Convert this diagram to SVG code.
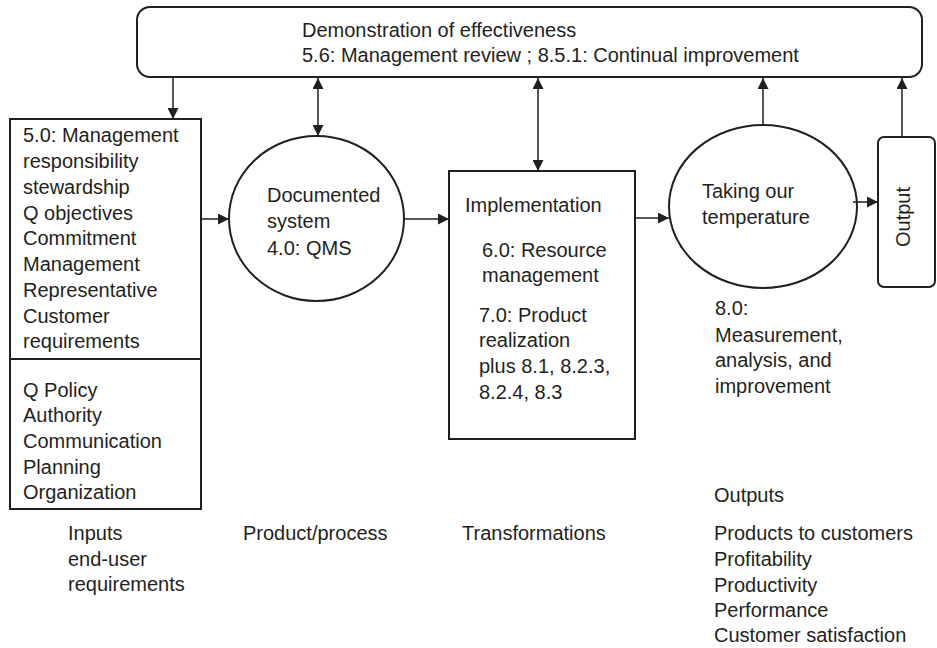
<svg xmlns="http://www.w3.org/2000/svg" width="937" height="648" viewBox="0 0 937 648">
  <style>
    .shape { fill: #ffffff; stroke: #231f20; stroke-width: 2; }
    .link { fill: none; stroke: #231f20; stroke-width: 1.5; }
    text { font-family: "Liberation Sans", Arial, sans-serif; font-size: 20px; fill: #231f20; }
  </style>
  <defs>
    <marker id="arrow" viewBox="0 0 10 10" refX="10" refY="5" markerWidth="11" markerHeight="11" markerUnits="userSpaceOnUse" orient="auto-start-reverse">
      <path d="M0,0 L10,5 L0,10 z" fill="#231f20"/>
    </marker>
  </defs>

  <!-- review / improvement banner -->
  <g id="review">
    <rect class="shape" x="137" y="7" width="785" height="70" rx="13"/>
    <text x="302" y="37">Demonstration of effectiveness</text>
    <text x="302" y="62">5.6: Management review ; 8.5.1: Continual improvement</text>
  </g>

  <!-- inputs: management responsibility -->
  <g id="inputs">
    <rect class="shape" x="10" y="119" width="191" height="390"/>
    <line class="shape" x1="10" y1="359" x2="201" y2="359"/>
    <text x="23" y="142">5.0: Management</text>
    <text x="23" y="168">responsibility</text>
    <text x="23" y="194">stewardship</text>
    <text x="23" y="220">Q objectives</text>
    <text x="23" y="245">Commitment</text>
    <text x="23" y="271">Management</text>
    <text x="23" y="297">Representative</text>
    <text x="23" y="323">Customer</text>
    <text x="23" y="348">requirements</text>
    <text x="23" y="397">Q Policy</text>
    <text x="23" y="422">Authority</text>
    <text x="23" y="448">Communication</text>
    <text x="23" y="474">Planning</text>
    <text x="23" y="499">Organization</text>
  </g>

  <!-- documented system -->
  <g id="qms">
    <ellipse class="shape" cx="316.5" cy="218.5" rx="87.5" ry="82.5"/>
    <text x="267" y="202">Documented</text>
    <text x="267" y="228">system</text>
    <text x="267" y="255">4.0: QMS</text>
  </g>

  <!-- implementation -->
  <g id="implementation">
    <rect class="shape" x="449" y="171" width="186" height="268"/>
    <text x="465" y="212">Implementation</text>
    <text x="482" y="257">6.0: Resource</text>
    <text x="482" y="282">management</text>
    <text x="479" y="322">7.0: Product</text>
    <text x="479" y="347">realization</text>
    <text x="479" y="373">plus 8.1, 8.2.3,</text>
    <text x="479" y="399">8.2.4, 8.3</text>
  </g>

  <!-- measurement -->
  <g id="temperature">
    <ellipse class="shape" cx="763" cy="206.5" rx="94" ry="81.5"/>
    <text x="702" y="198">Taking our</text>
    <text x="702" y="224">temperature</text>
    <text x="715" y="315">8.0:</text>
    <text x="715" y="342">Measurement,</text>
    <text x="715" y="367">analysis, and</text>
    <text x="715" y="393">improvement</text>
  </g>

  <!-- output -->
  <g id="output">
    <rect class="shape" x="878" y="137" width="57" height="150" rx="6"/>
    <text x="0" y="0" text-anchor="middle" transform="translate(910 217) rotate(-90)">Output</text>
  </g>

  <!-- column captions -->
  <g id="captions">
    <text x="68" y="540">Inputs</text>
    <text x="68" y="566">end-user</text>
    <text x="68" y="591">requirements</text>
    <text x="243" y="540">Product/process</text>
    <text x="462" y="540">Transformations</text>
    <text x="714" y="502">Outputs</text>
    <text x="714" y="540">Products to customers</text>
    <text x="714" y="566">Profitability</text>
    <text x="714" y="592">Productivity</text>
    <text x="714" y="617">Performance</text>
    <text x="714" y="642">Customer satisfaction</text>
  </g>

  <!-- connectors -->
  <g id="connectors">
    <line class="link" x1="173" y1="78" x2="173" y2="119" marker-end="url(#arrow)"/>
    <line class="link" x1="318" y1="78" x2="318" y2="136" marker-start="url(#arrow)" marker-end="url(#arrow)"/>
    <line class="link" x1="538" y1="78" x2="538" y2="171" marker-start="url(#arrow)" marker-end="url(#arrow)"/>
    <line class="link" x1="763" y1="125" x2="763" y2="78" marker-end="url(#arrow)"/>
    <line class="link" x1="902" y1="137" x2="902" y2="78" marker-end="url(#arrow)"/>
    <line class="link" x1="201" y1="219" x2="229" y2="219" marker-end="url(#arrow)"/>
    <line class="link" x1="405" y1="219" x2="449" y2="219" marker-end="url(#arrow)"/>
    <line class="link" x1="635" y1="218" x2="669" y2="218" marker-end="url(#arrow)"/>
    <line class="link" x1="853" y1="202" x2="878" y2="202" marker-end="url(#arrow)"/>
  </g>
</svg>
